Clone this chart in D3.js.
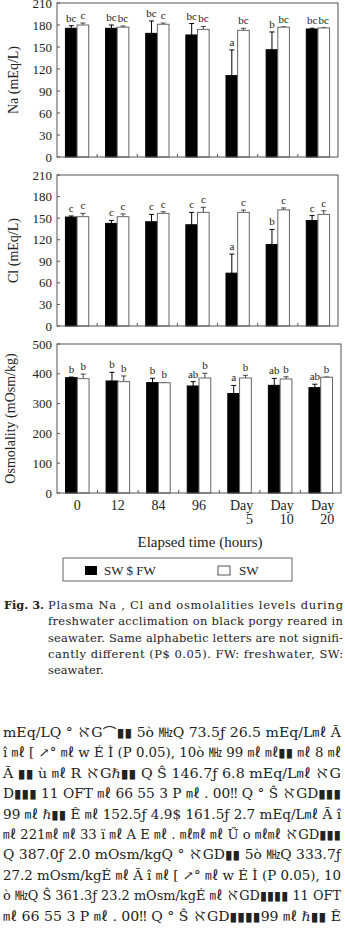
<!DOCTYPE html>
<html>
<head>
<meta charset="utf-8">
<script src="https://cdn.jsdelivr.net/npm/d3@7"></script>
<style>
  body { margin: 0; background: #fff; }
  svg { display: block; }
</style>
</head>
<body>
<div id="chart"></div>
<script>
// groups on the x axis
var groups = ["0", "12", "84", "96", "Day 5", "Day 10", "Day 20"];

// Na (mEq/L)
var naFW = [175.5, 175.5, 168.6, 166.4, 111.0, 146.3, 174.5];
var naFWsd = [3.5, 4.5, 16.9, 15.6, 35.0, 24.2, 1.0];
var naSW = [180.0, 177.0, 181.0, 174.0, 172.7, 177.0, 176.0];
var naSWsd = [2.7, 1.6, 1.7, 4.0, 2.8, 0.5, 0.4];
var naFWlet = ["bc", "bc", "bc", "bc", "a", "b", "bc"];
var naSWlet = ["c", "bc", "c", "bc", "bc", "bc", "bc"];

// Cl (mEq/L)
var clFW = [151.5, 142.7, 145.0, 140.8, 73.5, 113.4, 146.7];
var clFWsd = [1.5, 4.1, 10.2, 17.2, 26.5, 20.9, 6.8];
var clSW = [152.0, 152.0, 156.6, 158.0, 158.0, 161.5, 155.2];
var clSWsd = [4.6, 3.8, 2.3, 7.0, 3.2, 2.7, 5.1];
var clFWlet = ["c", "c", "c", "c", "a", "b", "c"];
var clSWlet = ["c", "c", "c", "c", "c", "c", "c"];

// Osmolality (mOsm/kg)
var osFW = [387.0, 376.0, 370.3, 359.0, 333.7, 361.3, 353.6];
var osFWsd = [2.0, 29.0, 14.7, 14.7, 27.2, 23.2, 11.4];
var osSW = [383.7, 373.7, 370.0, 386.0, 386.0, 382.6, 388.4];
var osSWsd = [15.3, 19.0, 1.0, 15.7, 9.0, 7.4, 1.0];
var osFWlet = ["b", "b", "b", "ab", "a", "ab", "ab"];
var osSWlet = ["b", "b", "b", "b", "b", "b", "b"];

var naTicks = [0, 30, 60, 90, 120, 150, 180, 210];
var clTicks = [0, 30, 60, 90, 120, 150, 180, 210];
var osTicks = [0, 100, 200, 300, 400, 500];

var captionLines = [
    "Plasma Na  , Cl  and osmolalities levels during",
    "freshwater acclimation on black porgy reared in",
    "seawater. Same alphabetic letters are not signifi-",
    "cantly different (P$ 0.05). FW: freshwater, SW:",
    "seawater."
];

// garbled body text (broken font mapping in the source page)
var bodyLines = [
    "mEq/LQ °    ℵG⌒▮▮   5ò ㎒Q    73.5ƒ  26.5 mEq/L㎖   Ã",
    "î ㎖ [    ↗° ㎖ w É Ì   (P    0.05), 10ò ㎒ 99 ㎖   ㎖▮▮  ㎖ 8 ㎖",
    "Ã   ▮▮ ù ㎖ R    ℵGℏ▮▮ Q Ŝ    146.7ƒ  6.8 mEq/L㎖   ℵG",
    "D▮▮▮   11 OFT  ㎖   66 55 3 P  ㎖ . 00‼     Q ° Ŝ   ℵGD▮▮▮",
    "99 ㎖    ℏ▮▮ Ê ㎖    152.5ƒ  4.9$ 161.5ƒ  2.7 mEq/L㎖  Ã î",
    "㎖   221㎖ ㎖   33 ï ㎖    A E ㎖ . ㎖㎖ ㎖   Ű o   ㎖㎖   ℵGD▮▮▮",
    "Q   387.0ƒ  2.0 mOsm/kgQ °    ℵGD▮▮   5ò ㎒Q    333.7ƒ",
    "27.2 mOsm/kgÉ ㎖   Ã î ㎖ [    ↗° ㎖ w É Ì   (P    0.05), 10",
    "ò ㎒Q Ŝ    361.3ƒ  23.2 mOsm/kgÉ ㎖   ℵGD▮▮▮▮   11 OFT",
    "㎖   66 55 3 P  ㎖ . 00‼     Q ° Ŝ   ℵGD▮▮▮▮99 ㎖    ℏ▮▮ Ê"
];

var width = 345,
    height = 941;
var serif = "'Liberation Serif', 'Times New Roman', serif";
var capFont = "'DejaVu Serif', serif";

var svg = d3.select('#chart').append('svg')
    .attr('width', width)
    .attr('height', height);

svg.append('rect')
    .attr('width', width)
    .attr('height', height)
    .attr('fill', '#fff');

var panels = [
    { fw: naFW, fwSD: naFWsd, sw: naSW, swSD: naSWsd, fwLet: naFWlet, swLet: naSWlet,
      ticks: naTicks, top: 3, bottom: 157, left: 57, right: 338, label: "Na  (mEq/L)", lx: 18 },
    { fw: clFW, fwSD: clFWsd, sw: clSW, swSD: clSWsd, fwLet: clFWlet, swLet: clSWlet,
      ticks: clTicks, top: 175, bottom: 326, left: 57, right: 338, label: "Cl  (mEq/L)", lx: 18 },
    { fw: osFW, fwSD: osFWsd, sw: osSW, swSD: osSWsd, fwLet: osFWlet, swLet: osSWlet,
      ticks: osTicks, top: 344, bottom: 493, left: 57, right: 341, label: "Osmolality (mOsm/kg)", lx: 15 }
];

var lastX;

panels.forEach(function (p) {
    var x = d3.scaleBand()
        .domain(groups)
        .range([p.left, p.right]);
    var y = d3.scaleLinear()
        .domain([0, d3.max(p.ticks)])
        .range([p.bottom, p.top]);
    var bw = x.step() * 0.29;
    lastX = x;

    var g = svg.append('g');

    // bars
    var series = [
        { vals: p.fw, sd: p.fwSD, lets: p.fwLet, off: -bw, fill: '#000', stroke: '#000', err: '#000' },
        { vals: p.sw, sd: p.swSD, lets: p.swLet, off: 0, fill: '#fff', stroke: '#666', err: '#444' }
    ];

    series.forEach(function (s) {
        var rows = groups.map(function (k, i) {
            return { key: k, v: s.vals[i], sd: s.sd[i], l: s.lets[i] };
        });
        var cx = function (d) { return x(d.key) + x.bandwidth() / 2 + s.off; };

        // error bars (upper only)
        g.selectAll(null)
            .data(rows).enter()
            .append('line')
            .attr('x1', function (d) { return cx(d) + bw / 2; })
            .attr('x2', function (d) { return cx(d) + bw / 2; })
            .attr('y1', function (d) { return y(d.v); })
            .attr('y2', function (d) { return y(d.v + d.sd); })
            .attr('stroke', s.err)
            .attr('stroke-width', 1);
        g.selectAll(null)
            .data(rows).enter()
            .append('line')
            .attr('x1', function (d) { return cx(d) + bw / 2 - 2.5; })
            .attr('x2', function (d) { return cx(d) + bw / 2 + 2.5; })
            .attr('y1', function (d) { return y(d.v + d.sd); })
            .attr('y2', function (d) { return y(d.v + d.sd); })
            .attr('stroke', s.err)
            .attr('stroke-width', 1);

        g.selectAll(null)
            .data(rows).enter()
            .append('rect')
            .attr('x', function (d) { return cx(d); })
            .attr('y', function (d) { return y(d.v); })
            .attr('width', bw)
            .attr('height', function (d) { return y(0) - y(d.v); })
            .attr('fill', s.fill)
            .attr('stroke', s.stroke)
            .attr('stroke-width', 1);

        // significance letters
        g.selectAll(null)
            .data(rows).enter()
            .append('text')
            .attr('x', function (d) { return cx(d) + bw / 2; })
            .attr('y', function (d) { return y(d.v + d.sd) - 4; })
            .attr('text-anchor', 'middle')
            .style('font-family', serif)
            .style('font-size', '11px')
            .attr('fill', '#222')
            .text(function (d) { return d.l; });
    });

    // frame
    g.append('rect')
        .attr('x', p.left)
        .attr('y', p.top)
        .attr('width', p.right - p.left)
        .attr('height', p.bottom - p.top)
        .attr('fill', 'none')
        .attr('stroke', '#555')
        .attr('stroke-width', 1);

    // y ticks (inward) and labels
    g.selectAll(null)
        .data(p.ticks).enter()
        .append('line')
        .attr('x1', p.left)
        .attr('x2', p.left + 3)
        .attr('y1', function (d) { return y(d); })
        .attr('y2', function (d) { return y(d); })
        .attr('stroke', '#555');
    g.selectAll(null)
        .data(p.ticks).enter()
        .append('text')
        .attr('x', p.left - 5)
        .attr('y', function (d) { return y(d); })
        .attr('dy', '0.35em')
        .attr('text-anchor', 'end')
        .style('font-family', serif)
        .style('font-size', '13px')
        .attr('fill', '#222')
        .text(function (d) { return d; });

    // x ticks between groups
    g.selectAll(null)
        .data(groups.slice(1)).enter()
        .append('line')
        .attr('x1', function (d) { return x(d); })
        .attr('x2', function (d) { return x(d); })
        .attr('y1', p.bottom)
        .attr('y2', p.bottom - 3)
        .attr('stroke', '#555');

    // y label
    svg.append('text')
        .attr('transform', 'translate(' + p.lx + ',' + (p.top + p.bottom) / 2 + ')rotate(-90)')
        .attr('text-anchor', 'middle')
        .style('font-family', serif)
        .style('font-size', '14px')
        .attr('fill', '#222')
        .text(p.label);
});

// x tick labels under the last panel
groups.forEach(function (k) {
    var cx = lastX(k) + lastX.bandwidth() / 2;
    var parts = k.split(' ');
    if (parts.length == 1) {
        svg.append('text')
            .attr('x', cx)
            .attr('y', 510)
            .attr('text-anchor', 'middle')
            .style('font-family', serif)
            .style('font-size', '14px')
            .attr('fill', '#222')
            .text(k);
    } else {
        svg.append('text')
            .attr('x', cx + 2)
            .attr('y', 510)
            .attr('text-anchor', 'middle')
            .style('font-family', serif)
            .style('font-size', '14px')
            .attr('fill', '#222')
            .text(parts[0]);
        svg.append('text')
            .attr('x', cx + 13.5)
            .attr('y', 524)
            .attr('text-anchor', 'end')
            .style('font-family', serif)
            .style('font-size', '14px')
            .attr('fill', '#222')
            .text(parts[1]);
    }
});

svg.append('text')
    .attr('x', 200)
    .attr('y', 547)
    .attr('text-anchor', 'middle')
    .style('font-family', serif)
    .style('font-size', '15px')
    .attr('fill', '#222')
    .text("Elapsed time (hours)");

// legend
svg.append('rect')
    .attr('x', 63).attr('y', 558)
    .attr('width', 229).attr('height', 23)
    .attr('fill', 'none')
    .attr('stroke', '#666');
svg.append('rect')
    .attr('x', 85).attr('y', 566)
    .attr('width', 12).attr('height', 9)
    .attr('fill', '#000');
svg.append('text')
    .attr('x', 104).attr('y', 575)
    .style('font-family', serif)
    .style('font-size', '13px')
    .attr('fill', '#222')
    .text("SW $ FW");
svg.append('rect')
    .attr('x', 218).attr('y', 566)
    .attr('width', 12).attr('height', 9)
    .attr('fill', '#fff')
    .attr('stroke', '#555');
svg.append('text')
    .attr('x', 239).attr('y', 575)
    .style('font-family', serif)
    .style('font-size', '13px')
    .attr('fill', '#222')
    .text("SW");

// caption
svg.append('text')
    .attr('x', 4).attr('y', 609)
    .attr('textLength', 40)
    .attr('lengthAdjust', 'spacingAndGlyphs')
    .style('font-family', capFont)
    .style('font-size', '11.5px')
    .style('font-weight', 'bold')
    .attr('fill', '#222')
    .text("Fig. 3.");

captionLines.forEach(function (t, i) {
    var tx = svg.append('text')
        .attr('x', 48)
        .attr('y', 609 + i * 16.3)
        .style('font-family', capFont)
        .style('font-size', '11.5px')
        .attr('fill', '#222')
        .text(t);
    if (i < captionLines.length - 1) {
        tx.attr('textLength', 295).attr('lengthAdjust', 'spacing');
    }
});

bodyLines.forEach(function (t, i) {
    svg.append('text')
        .attr('x', 3)
        .attr('y', 737 + i * 20.4)
        .attr('textLength', 338)
        .attr('lengthAdjust', 'spacingAndGlyphs')
        .style('font-family', capFont + ", 'Noto Sans CJK SC'")
        .style('font-size', '12.5px')
        .attr('fill', '#222')
        .text(t);
});
</script>
</body>
</html>
